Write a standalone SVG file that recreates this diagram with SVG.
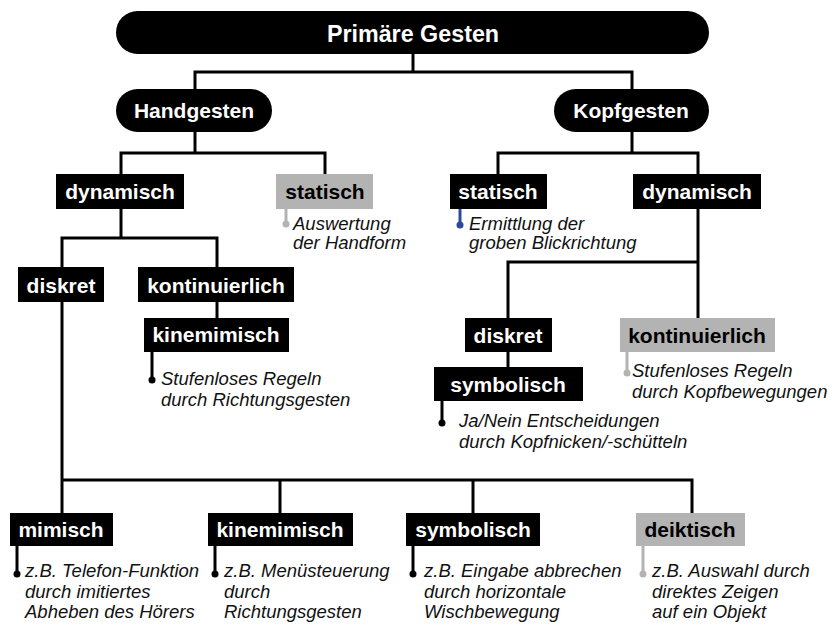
<svg xmlns="http://www.w3.org/2000/svg" width="832" height="627" viewBox="0 0 832 627">
<style>
.pill{fill:#000}
.box{fill:#000}
.gbox{fill:#b3b3b3}
.lbl{font-family:"Liberation Sans",Arial,sans-serif;font-weight:bold;font-size:21px;fill:#fff;text-anchor:middle}
.glbl{fill:#000}
.title{font-size:23.3px}
.note{font-family:"Liberation Sans",Arial,sans-serif;font-style:italic;font-size:18.5px;fill:#111}
.c{fill:none;stroke:#000;stroke-width:3;stroke-linejoin:miter;stroke-linecap:butt}
.cg{fill:none;stroke:#b3b3b3;stroke-width:3}
.cb{fill:none;stroke:#2b4a9b;stroke-width:3}
.d{fill:#000}
.dg{fill:#b3b3b3}
.db{fill:#2b4a9b}
</style>
<rect width="832" height="627" fill="#fff"/>
<g id="connectors">
<path class="c" d="M413 54 V72"/>
<path class="c" d="M195 89 V72 H632 V89"/>
<path class="c" d="M195 132 V153"/>
<path class="c" d="M121 174 V153 H325 V174"/>
<path class="c" d="M121 209 V238"/>
<path class="c" d="M62 267 V238 H217 V267"/>
<path class="c" d="M217 302 V318"/>
<path class="c" d="M62 302 V513"/>
<path class="c" d="M62 480 H692 V513"/>
<path class="c" d="M280 480 V513"/>
<path class="c" d="M473 480 V513"/>
<path class="c" d="M632 132 V153"/>
<path class="c" d="M498 174 V153 H698 V174"/>
<path class="c" d="M698 209 V318"/>
<path class="c" d="M508 318 V262 H698"/>
<path class="c" d="M508 352 V367"/>
<path class="cg" d="M286 209 V224"/><circle class="dg" cx="286" cy="224" r="3.5"/>
<path class="cb" d="M460 209 V225"/><circle class="db" cx="460" cy="225" r="3.5"/>
<path class="c" d="M152 352 V380"/><circle class="d" cx="152" cy="380" r="3.5"/>
<path class="c" d="M442 401 V423"/><circle class="d" cx="442" cy="423" r="3.5"/>
<path class="cg" d="M627 352 V373"/><circle class="dg" cx="627" cy="373" r="3.5"/>
<path class="c" d="M17 546 V574"/><circle class="d" cx="17" cy="574" r="3.5"/>
<path class="c" d="M215 546 V574"/><circle class="d" cx="215" cy="574" r="3.5"/>
<path class="c" d="M413 546 V574"/><circle class="d" cx="413" cy="574" r="3.5"/>
<path class="cg" d="M643 546 V574"/><circle class="dg" cx="643" cy="574" r="3.5"/>
</g>
<g id="primaere-gesten">
<rect class="pill" x="116" y="11" width="593" height="43" rx="21.5"/>
<text class="lbl title" x="413" y="42">Primäre Gesten</text>
</g>
<g id="handgesten">
<rect class="pill" x="116" y="89" width="156" height="43" rx="21.5"/>
<text class="lbl" x="194" y="118">Handgesten</text>
</g>
<g id="kopfgesten">
<rect class="pill" x="554" y="89" width="155" height="43" rx="21.5"/>
<text class="lbl" x="631" y="118">Kopfgesten</text>
</g>
<g id="hand-dynamisch">
<rect class="box" x="56" y="174" width="128" height="35"/>
<text class="lbl" x="120" y="199">dynamisch</text>
</g>
<g id="hand-statisch">
<rect class="gbox" x="276" y="174" width="97" height="35"/>
<text class="lbl glbl" x="325" y="199">statisch</text>
<text class="note" x="293" y="230">Auswertung</text>
<text class="note" x="293" y="249">der Handform</text>
</g>
<g id="hand-diskret">
<rect class="box" x="18" y="267" width="86" height="35"/>
<text class="lbl" x="61" y="293">diskret</text>
</g>
<g id="hand-kontinuierlich">
<rect class="box" x="138" y="267" width="156" height="35"/>
<text class="lbl" x="216" y="293">kontinuierlich</text>
</g>
<g id="hand-kont-kinemimisch">
<rect class="box" x="144" y="318" width="145" height="34"/>
<text class="lbl" x="216" y="342">kinemimisch</text>
<text class="note" x="161" y="385">Stufenloses Regeln</text>
<text class="note" x="161" y="406">durch Richtungsgesten</text>
</g>
<g id="kopf-statisch">
<rect class="box" x="450" y="174" width="97" height="35"/>
<text class="lbl" x="498" y="199">statisch</text>
<text class="note" x="469" y="230">Ermittlung der</text>
<text class="note" x="469" y="249">groben Blickrichtung</text>
</g>
<g id="kopf-dynamisch">
<rect class="box" x="633" y="174" width="128" height="35"/>
<text class="lbl" x="697" y="199">dynamisch</text>
</g>
<g id="kopf-diskret">
<rect class="box" x="465" y="318" width="87" height="34"/>
<text class="lbl" x="508" y="343">diskret</text>
</g>
<g id="kopf-kontinuierlich">
<rect class="gbox" x="620" y="318" width="155" height="34"/>
<text class="lbl glbl" x="697" y="343">kontinuierlich</text>
<text class="note" x="632" y="377">Stufenloses Regeln</text>
<text class="note" x="632" y="398">durch Kopfbewegungen</text>
</g>
<g id="kopf-symbolisch">
<rect class="box" x="434" y="367" width="149" height="34"/>
<text class="lbl" x="508" y="392">symbolisch</text>
<text class="note" x="459" y="427">Ja/Nein Entscheidungen</text>
<text class="note" x="459" y="448">durch Kopfnicken/-schütteln</text>
</g>
<g id="mimisch">
<rect class="box" x="10" y="513" width="103" height="33"/>
<text class="lbl" x="61" y="537">mimisch</text>
<text class="note" x="25" y="577">z.B. Telefon-Funktion</text>
<text class="note" x="25" y="597.5">durch imitiertes</text>
<text class="note" x="25" y="618">Abheben des Hörers</text>
</g>
<g id="kinemimisch">
<rect class="box" x="208" y="513" width="145" height="33"/>
<text class="lbl" x="280" y="537">kinemimisch</text>
<text class="note" x="224" y="577">z.B. Menüsteuerung</text>
<text class="note" x="224" y="597.5">durch</text>
<text class="note" x="224" y="618">Richtungsgesten</text>
</g>
<g id="symbolisch">
<rect class="box" x="406" y="513" width="134" height="33"/>
<text class="lbl" x="473" y="537">symbolisch</text>
<text class="note" x="424" y="577">z.B. Eingabe abbrechen</text>
<text class="note" x="424" y="597.5">durch horizontale</text>
<text class="note" x="424" y="618">Wischbewegung</text>
</g>
<g id="deiktisch">
<rect class="gbox" x="636" y="513" width="109" height="33"/>
<text class="lbl glbl" x="690" y="537">deiktisch</text>
<text class="note" x="652" y="577">z.B. Auswahl durch</text>
<text class="note" x="652" y="597.5">direktes Zeigen</text>
<text class="note" x="652" y="618">auf ein Objekt</text>
</g>
</svg>
